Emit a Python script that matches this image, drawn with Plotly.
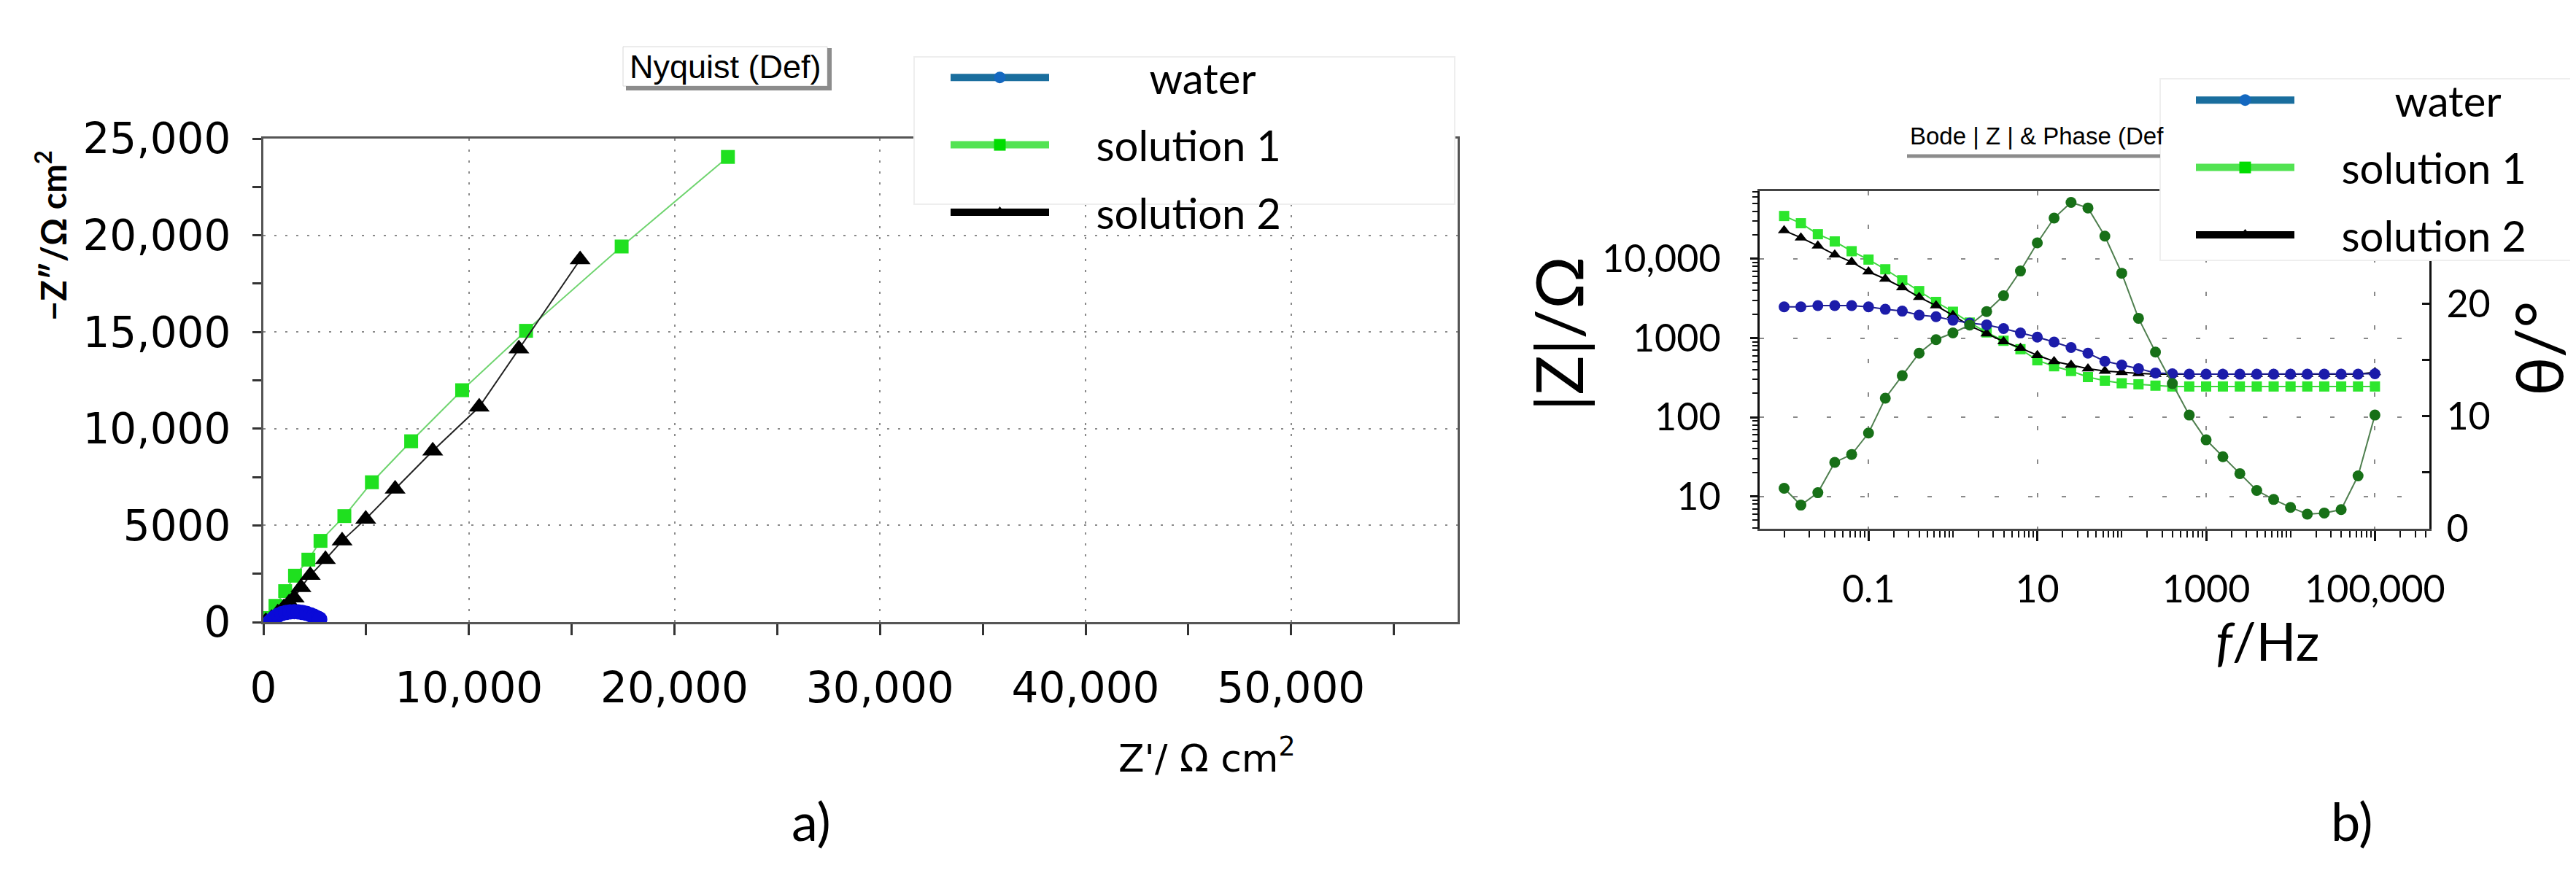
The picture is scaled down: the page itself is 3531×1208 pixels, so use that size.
import plotly.graph_objects as go

# ---- data ----
# Nyquist (a), ohm cm2, high frequency end first
nyq_water_re = [330, 420, 560, 720, 900, 1100, 1300, 1500, 1700, 1900, 2100, 2300, 2450, 2580, 2680, 2740]
nyq_water_im = [20, 120, 250, 360, 440, 500, 530, 540, 530, 500, 450, 380, 310, 240, 190, 150]
nyq_sol1_re = [180, 590, 1060, 1540, 2190, 2780, 3940, 5280, 7190, 9670, 12780, 17430, 22600]
nyq_sol1_im = [210, 840, 1600, 2400, 3230, 4200, 5480, 7230, 9350, 11990, 15060, 19420, 24050]
nyq_sol2_re = [120, 400, 700, 1000, 1250, 1500, 1830, 2280, 3020, 3830, 4980, 6410, 8240, 10500, 12430, 15410]
nyq_sol2_im = [40, 200, 480, 750, 1000, 1250, 1790, 2420, 3240, 4200, 5330, 6880, 8850, 11120, 14130, 18740]

# Bode (b)
freq = [0.01, 0.0158, 0.0251, 0.0398, 0.0631,
        0.1, 0.158, 0.251, 0.398, 0.631,
        1, 1.58, 2.51, 3.98, 6.31,
        10, 15.8, 25.1, 39.8, 63.1,
        100, 158, 251, 398, 631,
        1000, 1580, 2510, 3980, 6310,
        10000, 15800, 25100, 39800, 63100,
        100000]
water_mod = [2480, 2480, 2570, 2570, 2570, 2480, 2310, 2190, 1950, 1860,
             1680, 1550, 1470, 1320, 1160, 1030, 890, 760, 645, 510,
             457, 412, 363, 355, 350, 350, 350, 350, 350, 350,
             350, 350, 350, 350, 350, 355]
sol1_mod = [34800, 28200, 20500, 16600, 12500, 9800, 7390, 5380, 3920, 2860,
            2150, 1570, 1180, 925, 724, 525, 441, 384, 322, 290,
            269, 261, 251, 245, 245, 245, 245, 245, 245, 245,
            245, 245, 245, 245, 245, 245]
sol2_mod = [22800, 18500, 14600, 11300, 9120, 6890, 5580, 4350, 3290, 2570,
            1940, 1430, 1140, 906, 750, 607, 508, 457, 412, 384,
            370, 358, 350, 350, 350, 350, 350, 350, 350, 350,
            350, 350, 350, 350, 350, 370]
phase = [3.6, 2.1, 3.2, 5.9, 6.6, 8.5, 11.6, 13.6, 15.6, 16.8,
         17.4, 18.1, 19.3, 20.7, 22.9, 25.4, 27.6, 29.0, 28.5, 26.0,
         22.7, 18.7, 15.7, 12.9, 10.1, 7.9, 6.4, 4.9, 3.4, 2.6,
         1.9, 1.3, 1.4, 1.7, 4.7, 10.1]

nyq_xticks = [0, 10000, 20000, 30000, 40000, 50000]
nyq_xlabels = ["0", "10,000", "20,000", "30,000", "40,000", "50,000"]
nyq_yticks = [0, 5000, 10000, 15000, 20000, 25000]
nyq_ylabels = ["0", "5000", "10,000", "15,000", "20,000", "25,000"]
bode_xticks = [0.1, 10, 1000, 100000]
bode_xlabels = ["0.1", "10", "1000", "100,000"]
bode_yticks = [10, 100, 1000, 10000]
bode_ylabels = ["10", "100", "1000", "10,000"]
phase_ticks = [0, 10, 20]

W, H = 3531, 1208
def px(x):
    return x / W
def py(y):
    return 1 - y / H

DJ = "DejaVu Sans"
LT = "Lato"
LS = "Liberation Sans"
GRID = "#8a8a8a"
NB = "\u00a0"

fig = go.Figure()

# ---- Nyquist ----
fig.add_trace(go.Scatter(x=nyq_sol1_re, y=nyq_sol1_im, mode="lines+markers",
                         line=dict(color="#6fd46f", width=2),
                         marker=dict(symbol="square", size=19, color="#1fe01f"),
                         showlegend=False, xaxis="x", yaxis="y"))
fig.add_trace(go.Scatter(x=nyq_sol2_re, y=nyq_sol2_im, mode="lines+markers",
                         line=dict(color="#222222", width=2),
                         marker=dict(symbol="triangle-up", size=25, color="black"),
                         showlegend=False, xaxis="x", yaxis="y"))
fig.add_trace(go.Scatter(x=nyq_water_re, y=nyq_water_im, mode="lines+markers",
                         line=dict(color="#0000dd", width=5),
                         marker=dict(symbol="circle", size=21, color="#0a0ad8"),
                         showlegend=False, xaxis="x", yaxis="y"))

# ---- Bode ----
fig.add_trace(go.Scatter(x=freq, y=phase, mode="lines+markers",
                         line=dict(color="#4f7f4f", width=2),
                         marker=dict(symbol="circle", size=15, color="#177017"),
                         showlegend=False, xaxis="x2", yaxis="y3"))
fig.add_trace(go.Scatter(x=freq, y=sol1_mod, mode="lines+markers",
                         line=dict(color="#3fd43f", width=2),
                         marker=dict(symbol="square", size=14, color="#2ce62c"),
                         showlegend=False, xaxis="x2", yaxis="y2"))
fig.add_trace(go.Scatter(x=freq, y=sol2_mod, mode="lines+markers",
                         line=dict(color="black", width=2),
                         marker=dict(symbol="triangle-up", size=15, color="black"),
                         showlegend=False, xaxis="x2", yaxis="y2"))
fig.add_trace(go.Scatter(x=freq, y=water_mod, mode="lines+markers",
                         line=dict(color="#202090", width=2),
                         marker=dict(symbol="circle", size=15, color="#1c1caa"),
                         showlegend=False, xaxis="x2", yaxis="y2"))

# ---- legend entries (same look in both panels) ----
entries = [(NB * 9 + "water", "#1a6e9e", "#1468c0", "circle"),
           (NB * 4 + "solution 1", "#52e352", "#00dd00", "square"),
           (NB * 4 + "solution 2", "black", "black", "triangle-up")]
for leg, ax, ay in [("legend", "x", "y"), ("legend2", "x2", "y2")]:
    for i, (name, lc, mc, sym) in enumerate(entries):
        fig.add_trace(go.Scatter(x=[None], y=[None], mode="lines+markers", name=name,
                                 line=dict(color=lc, width=10),
                                 marker=dict(symbol=sym, size=16, color=mc),
                                 legend=leg, legendgroup=leg + str(i),
                                 xaxis=ax, yaxis=ay))

axis_line = dict(showline=True, linecolor="#555555", linewidth=3, zeroline=False)

fig.update_layout(
    width=W, height=H,
    margin=dict(l=0, r=0, t=0, b=0, pad=0, autoexpand=False),
    paper_bgcolor="white", plot_bgcolor="white",
    font=dict(family=LT, color="black"),
    xaxis=dict(domain=[px(353), px(1990)], range=[0, 58100], anchor="y", automargin=False,
               tickmode="array", tickvals=nyq_xticks, ticktext=nyq_xlabels,
               tickfont=dict(family=DJ, size=58), ticks="outside", ticklen=15,
               tickwidth=3, tickcolor="#333", ticklabelstandoff=22,
               showgrid=True, gridcolor=GRID, gridwidth=2, griddash="3px,12px",
               minor=dict(dtick=5000, tick0=0, ticks="outside", ticklen=15,
                          tickwidth=3, tickcolor="#333", showgrid=False),
               mirror=True, **axis_line),
    yaxis=dict(domain=[py(845), py(182)], range=[0, 25000], anchor="x", automargin=False,
               tickmode="array", tickvals=nyq_yticks, ticktext=nyq_ylabels,
               tickfont=dict(family=DJ, size=58), ticks="outside", ticklen=12,
               tickwidth=3, tickcolor="#333", ticklabelstandoff=18,
               showgrid=True, gridcolor=GRID, gridwidth=2, griddash="3px,12px",
               minor=dict(dtick=2500, tick0=0, ticks="outside", ticklen=12,
                          tickwidth=3, tickcolor="#333", showgrid=False),
               mirror=True, **axis_line),
    xaxis2=dict(domain=[px(2404), px(3322)], type="log", range=[-2.29, 5.645],
                anchor="y2", automargin=False,
                tickmode="array", tickvals=bode_xticks, ticktext=bode_xlabels,
                tickfont=dict(family=LT, size=52), ticks="outside", ticklen=14,
                tickwidth=3, tickcolor="#111", ticklabelstandoff=22,
                showgrid=True, gridcolor=GRID, gridwidth=2, griddash="6px,40px",
                minor=dict(tickmode="array",
                           tickvals=[m * 10 ** e for e in range(-2, 6) for m in range(1, 10)
                                     if (m * 10 ** e) not in bode_xticks],
                           ticks="outside", ticklen=9, tickwidth=2, tickcolor="#111"),
                mirror=True, showline=True, linecolor="#444", linewidth=3, zeroline=False),
    yaxis2=dict(domain=[py(717), py(254)], type="log", range=[0.593, 4.856],
                anchor="x2", automargin=False,
                tickmode="array", tickvals=bode_yticks, ticktext=bode_ylabels,
                tickfont=dict(family=LT, size=52), ticks="outside", ticklen=10,
                tickwidth=3, tickcolor="#111", ticklabelstandoff=30,
                showgrid=True, gridcolor=GRID, gridwidth=2, griddash="6px,40px",
                minor=dict(tickmode="array",
                           tickvals=[m * 10 ** e for e in range(0, 5) for m in range(2, 10)],
                           ticks="outside", ticklen=7, tickwidth=2, tickcolor="#111"),
                showline=True, linecolor="#111", linewidth=3, zeroline=False),
    yaxis3=dict(overlaying="y2", side="right", anchor="x2", range=[0, 30], automargin=False,
                tickmode="array", tickvals=phase_ticks, ticktext=[str(t) for t in phase_ticks],
                tickfont=dict(family=LT, size=52), ticks="inside", ticklen=10,
                tickwidth=3, tickcolor="#111", ticklabelstandoff=10,
                minor=dict(dtick=5, tick0=0, ticks="inside", ticklen=10, tickwidth=3,
                           tickcolor="#111"),
                showgrid=False, showline=True, linecolor="#111", linewidth=3, zeroline=False),
    legend=dict(x=px(1290), y=py(54), xanchor="left", yanchor="top",
                font=dict(family=LT, size=58, color="black"), bgcolor="rgba(0,0,0,0)",
                itemwidth=135, traceorder="grouped", tracegroupgap=14),
    legend2=dict(x=px(2997), y=py(85), xanchor="left", yanchor="top",
                 font=dict(family=LT, size=58, color="black"), bgcolor="rgba(0,0,0,0)",
                 itemwidth=135, traceorder="grouped", tracegroupgap=14),
)

# white boxes behind the legends, covering the frame corners
shapes = [
    dict(type="rect", xref="paper", yref="paper", x0=px(1245), x1=px(1986), y0=py(272), y1=py(70),
         fillcolor="white", line=dict(color="#eeeeee", width=2), layer="above"),
    dict(type="rect", xref="paper", yref="paper", x0=px(2953), x1=px(3529), y0=py(349), y1=py(100),
         fillcolor="white", line=dict(color="#eeeeee", width=2), layer="above"),
    # title boxes and their shadows
    dict(type="rect", xref="paper", yref="paper", x0=px(846), x1=px(1126), y0=py(110), y1=py(56),
         line=dict(color="#d8d8d8", width=1)),
    dict(type="line", xref="paper", yref="paper", x0=px(850), x1=px(1132), y0=py(113), y1=py(113),
         line=dict(color="#8c8c8c", width=6)),
    dict(type="line", xref="paper", yref="paper", x0=px(1129), x1=px(1129), y0=py(113), y1=py(58),
         line=dict(color="#8c8c8c", width=6)),
    dict(type="line", xref="paper", yref="paper", x0=px(2606), x1=px(2953), y0=py(206), y1=py(206),
         line=dict(color="#8c8c8c", width=5)),
]
fig.update_layout(shapes=shapes)

def note(text, x, y, size, family=LT, angle=0, xanchor="center", bold=False):
    if bold:
        text = "<b>" + text + "</b>"
    fig.add_annotation(text=text, x=px(x), y=py(y), xref="paper", yref="paper",
                       showarrow=False, xanchor=xanchor, yanchor="middle", textangle=angle,
                       font=dict(family=family, size=size, color="black"))

note("Nyquist (Def)", 986, 83, 45, family=LS)
note("Bode | Z | & Phase (Def", 2608, 178, 33, family=LS, xanchor="left")
note("\u2212Z\u2033/\u03a9 cm<sup>2</sup>", 62, 315, 47, angle=-90, bold=True)
note("Z'/ \u03a9 cm<sup>2</sup>", 1646, 1028, 52, family=DJ)
note("a)", 1104, 1117, 72)
note("|Z|/\u03a9", 2127, 450, 90, angle=-90)
note("\u03b8/\u00b0", 3470, 470, 90, angle=-90)
note("<i>f</i>/Hz", 3100, 870, 72)
note("b)", 3215, 1117, 72)

fig.write_html("out.html")
